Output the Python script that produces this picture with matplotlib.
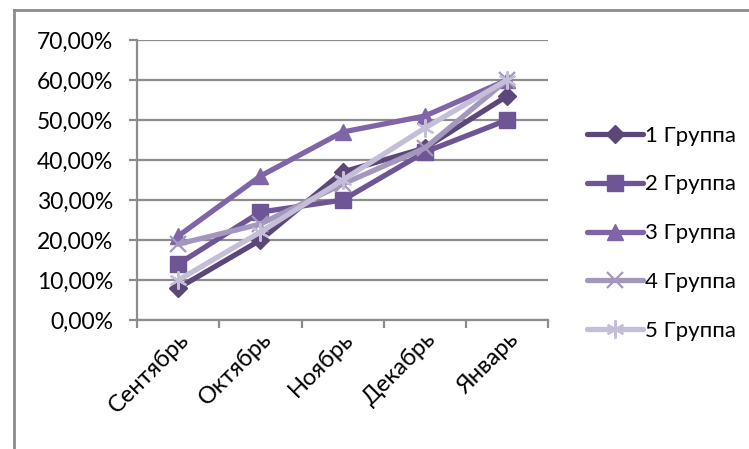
import numpy as np
import matplotlib.pyplot as plt
from matplotlib.lines import Line2D
from matplotlib.ticker import FuncFormatter, FixedLocator

plt.rcParams['font.family'] = ['Lato', 'DejaVu Sans']

months = ['Сентябрь', 'Октябрь', 'Ноябрь', 'Декабрь', 'Январь']
group_names = ['1 Группа', '2 Группа', '3 Группа', '4 Группа', '5 Группа']

g1 = [0.08, 0.20, 0.37, 0.43, 0.56]
g2 = [0.14, 0.27, 0.30, 0.42, 0.50]
g3 = [0.21, 0.36, 0.47, 0.51, 0.60]
g4 = [0.19, 0.24, 0.34, 0.43, 0.60]
g5 = [0.10, 0.22, 0.35, 0.48, 0.60]
series = [g1, g2, g3, g4, g5]

colors = ['#5C4878', '#6D5596', '#7F65A8', '#A497BE', '#C5BED8']
markers = ['D', 's', '^', 'x', (6, 2, 0)]
msizes = [9.5, 12, 12, 12, 13]

fig = plt.figure(figsize=(7.49, 4.49), dpi=100)
ax = fig.add_axes([0.183, 0.287, 0.549, 0.624])

x = np.arange(len(months)) + 0.5
for vals, name, c, m, ms in zip(series, group_names, colors, markers, msizes):
    ax.plot(x, vals, color=c, lw=3.8, marker=m, markersize=ms,
            markeredgecolor=c, markeredgewidth=1.6 if m in ('x', (6, 2, 0)) else 1,
            label=name, solid_capstyle='round')

ax.set_xlim(0, 5)
ax.set_ylim(0, 0.70)
ax.set_yticks(np.arange(0, 0.71, 0.10))
ax.yaxis.set_major_formatter(FuncFormatter(lambda v, p: f'{v*100:.2f}%'.replace('.', ',')))
ax.grid(axis='y', color='#8C8C8C', lw=1.6)
ax.set_axisbelow(True)

ax.xaxis.set_major_locator(FixedLocator(np.arange(0, 6)))
ax.xaxis.set_minor_locator(FixedLocator(x))
ax.set_xticklabels([])
ax.set_xticklabels(months, minor=True, rotation=45, ha='right', rotation_mode='anchor')
ax.tick_params(axis='x', which='major', length=6, width=1.6, color='#8C8C8C')
ax.tick_params(axis='x', which='minor', length=0, pad=6, labelsize=17)
ax.tick_params(axis='y', length=6, width=1.6, color='#8C8C8C', labelsize=16.5, pad=11)

for s in ['top', 'right']:
    ax.spines[s].set_visible(False)
for s in ['left', 'bottom']:
    ax.spines[s].set_color('#8C8C8C')
    ax.spines[s].set_linewidth(1.6)

fig.legend(loc='upper left', bbox_to_anchor=(0.769, 0.745), frameon=False,
           fontsize=16, handlelength=2.5, handletextpad=0.12, labelspacing=1.3,
           borderpad=0)

fig.add_artist(Line2D([14/749, 14/749], [0, 1 - 10/449], color='#8C8C8C', lw=2,
                      transform=fig.transFigure))
fig.add_artist(Line2D([14/749, 1], [1 - 10/449, 1 - 10/449], color='#8C8C8C', lw=2,
                      transform=fig.transFigure))

fig.savefig('out.png', dpi=100)
